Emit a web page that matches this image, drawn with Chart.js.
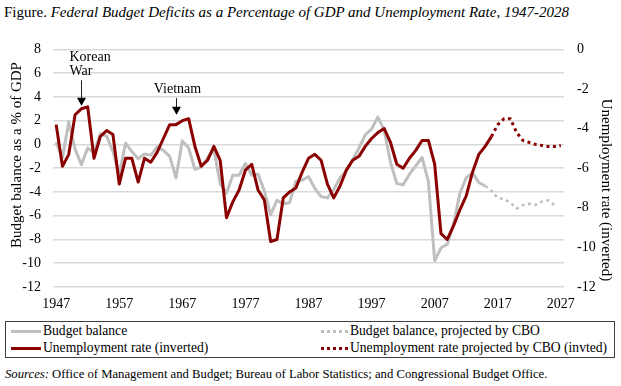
<!DOCTYPE html>
<html>
<head>
<meta charset="utf-8">
<script src="https://cdn.jsdelivr.net/npm/chart.js@4.4.1/dist/chart.umd.min.js"></script>
<style>
  html, body { margin: 0; padding: 0; background: #fff; }
  body {
    width: 621px; height: 386px; position: relative; overflow: hidden;
    font-family: "Liberation Serif", "Times New Roman", serif; color: #000;
  }
  #title { position: absolute; left: 4px; top: 4px; font-size: 15px; white-space: nowrap; }
  #wrap { position: absolute; left: 0; top: 28px; width: 621px; height: 290px; }
  #legend {
    position: absolute; left: 5px; top: 321px; width: 608px; height: 35px;
    border: 1px solid #404040; display: grid; grid-template-columns: 310px 1fr;
    align-content: center; font-size: 13.6px;
  }
  .item { display: flex; align-items: center; height: 17px; white-space: nowrap; }
  .swatch { width: 30px; margin: 0 2px 0 5px; height: 0; }
  .item:nth-child(even) .swatch { width: 27px; }
  #sources { position: absolute; left: 5px; top: 367px; font-size: 12.7px; white-space: nowrap; }
</style>
</head>
<body>
<div id="title">Figure. <em>Federal Budget Deficits as a Percentage of GDP and Unemployment Rate, 1947-2028</em></div>
<div id="wrap"><canvas id="chart"></canvas></div>
<div id="legend"></div>
<div id="sources"><em>Sources:</em> Office of Management and Budget; Bureau of Labor Statistics; and Congressional Budget Office.</div>
<script>
// x categories (one per year slot on the axis)
const years = [];
for (let yr = 1947; yr <= 2027; yr++) years.push(String(yr));

// budget balance, % of GDP (actual)
const budgetBalance = [
  0.2, -1.1, 1.9, -0.4, -1.7, -0.3, -0.7, 0.9, 0.7, -0.6,
  -2.5, 0.1, -0.6, -1.2, -0.8, -0.9, -0.2, -0.5, -1.0, -2.8,
  0.3, -0.3, -2.1, -1.9, -1.1, -0.4, -3.3, -4.1, -2.6, -2.6,
  -1.6, -2.6, -2.5, -3.9, -5.9, -4.7, -5.0, -4.9, -3.1, -3.0,
  -2.7, -3.7, -4.4, -4.5, -3.8, -2.8, -2.2, -1.3, -0.3, 0.8,
  1.3, 2.3, 1.2, -1.5, -3.3, -3.4, -2.5, -1.8, -1.1, -3.1,
  -9.8, -8.7, -8.4, -6.7, -4.1, -2.8, -2.4, -3.2, -3.5
];
// budget balance projected by CBO (starts at last actual point)
const budgetProjected = [-3.5, -3.9, -4.5, -4.6, -4.9, -5.4, -5.1, -5.0, -5.1, -4.8, -4.7, -5.1];

// unemployment rate, % (actual)
const unemploymentRate = [
  3.8, 5.9, 5.3, 3.3, 3.0, 2.9, 5.5, 4.4, 4.1, 4.3,
  6.8, 5.5, 5.5, 6.7, 5.5, 5.7, 5.2, 4.5, 3.8, 3.8,
  3.6, 3.5, 4.9, 5.9, 5.6, 4.9, 5.6, 8.5, 7.7, 7.1,
  6.1, 5.8, 7.1, 7.6, 9.7, 9.6, 7.5, 7.2, 7.0, 6.2,
  5.5, 5.3, 5.6, 6.8, 7.5, 6.9, 6.1, 5.6, 5.4, 4.9,
  4.5, 4.2, 4.0, 4.7, 5.8, 6.0, 5.5, 5.1, 4.6, 4.6,
  5.8, 9.3, 9.6, 8.9, 8.1, 7.4, 6.2, 5.3, 4.9, 4.4
];
// unemployment projected by CBO
const unemploymentProjected = [4.4, 3.8, 3.5, 3.5, 4.2, 4.6, 4.7, 4.8, 4.85, 4.9, 4.9, 4.85];

const leftTicks = [8, -12];   // budget axis range
const rightTicks = [0, -12];  // unemployment (inverted) axis range

const RED = '#8b0000';
const GRAY = '#bfbfbf';

const lead = n => Array(n).fill(null);
const invert = arr => arr.map(v => (v === null ? null : -v));

// arrows for the war labels
const notes = [
  { lines: ['Korean', 'War'], at: 4, from: 5.4, to: 3.25, dx: -12, align: 'left' },
  { lines: ['Vietnam'], at: 19, from: 3.9, to: 2.5, dx: 1, align: 'center' }
];

const overlay = {
  id: 'overlay',
  afterDatasetsDraw(chart) {
    const { ctx, scales: { x, y } } = chart;
    ctx.save();
    ctx.fillStyle = '#000';
    ctx.strokeStyle = '#222';
    ctx.font = '14px "Liberation Serif"';
    ctx.textBaseline = 'middle';
    notes.forEach(n => {
      const px = Math.round(x.getPixelForValue(n.at)) + 0.5;
      const top = y.getPixelForValue(n.from);
      const tip = y.getPixelForValue(n.to);
      ctx.lineWidth = 1;
      ctx.beginPath();
      ctx.moveTo(px, top);
      ctx.lineTo(px, tip - 6);
      ctx.stroke();
      ctx.beginPath();
      ctx.moveTo(px - 4.5, tip - 8);
      ctx.lineTo(px + 4.5, tip - 8);
      ctx.lineTo(px, tip);
      ctx.closePath();
      ctx.fill();
      ctx.textAlign = n.align;
      const count = n.lines.length;
      n.lines.forEach((t, i) => {
        ctx.fillText(t, px + n.dx, top - 9 - (count - 1 - i) * 14);
      });
    });

    // axis titles
    ctx.font = '15px "Liberation Serif"';
    ctx.textAlign = 'center';
    ctx.save();
    ctx.translate(17, 127);
    ctx.rotate(-Math.PI / 2);
    ctx.fillText('Budget balance as a % of GDP', 0, 0);
    ctx.restore();
    ctx.save();
    ctx.translate(606, 162);
    ctx.rotate(Math.PI / 2);
    ctx.fillText('Unemployment rate (inverted)', 0, 0);
    ctx.restore();
    ctx.restore();
  }
};

Chart.defaults.font.family = '"Liberation Serif", "Times New Roman", serif';
Chart.defaults.font.size = 14;
Chart.defaults.color = '#000';

const chart = new Chart(document.getElementById('chart'), {
  type: 'line',
  data: {
    labels: years,
    datasets: [
      {
        label: 'Budget balance',
        data: budgetBalance,
        borderColor: GRAY, borderWidth: 3, yAxisID: 'y', order: 2
      },
      {
        label: 'Budget balance, projected by CBO',
        data: lead(budgetBalance.length - 1).concat(budgetProjected),
        borderColor: GRAY, borderWidth: 2.5, borderDash: [3, 3.5], yAxisID: 'y', order: 2
      },
      {
        label: 'Unemployment rate (inverted)',
        data: invert(unemploymentRate),
        borderColor: RED, borderWidth: 3, yAxisID: 'y2', order: 1
      },
      {
        label: 'Unemployment rate projected by CBO (invted)',
        data: lead(unemploymentRate.length - 1).concat(invert(unemploymentProjected)),
        borderColor: RED, borderWidth: 3, borderDash: [3, 3.5], yAxisID: 'y2', order: 1
      }
    ]
  },
  options: {
    responsive: true,
    maintainAspectRatio: false,
    animation: false,
    elements: { point: { radius: 0 }, line: { tension: 0, borderJoinStyle: 'round' } },
    layout: { padding: { top: 18, left: 0, right: 0, bottom: 0 } },
    plugins: { legend: { display: false }, tooltip: { enabled: false } },
    scales: {
      x: {
        offset: true,
        grid: { display: false },
        border: { display: false },
        ticks: { autoSkip: false, maxRotation: 0, minRotation: 0, padding: 1 },
        afterBuildTicks: s => { s.ticks = s.ticks.filter(t => t.value % 10 === 0); },
        afterFit: s => { s.height = 31; }
      },
      y: {
        position: 'left',
        min: leftTicks[1], max: leftTicks[0],
        ticks: { stepSize: 2, padding: 12 },
        grid: { color: '#d9d9d9', lineWidth: 1.5, drawTicks: false },
        border: { display: false },
        afterFit: s => { s.width = 53; }
      },
      y2: {
        position: 'right',
        min: rightTicks[1], max: rightTicks[0],
        ticks: { stepSize: 2, padding: 13 },
        grid: { display: false, drawTicks: false },
        border: { display: false },
        afterFit: s => { s.width = 57; }
      }
    }
  },
  plugins: [overlay]
});

// legend box built from the datasets
const legendEl = document.getElementById('legend');
chart.data.datasets.forEach(ds => {
  const item = document.createElement('div');
  item.className = 'item';
  const sw = document.createElement('span');
  sw.className = 'swatch';
  sw.style.borderTop = (ds.borderDash ? '3px dotted ' : '3px solid ') + ds.borderColor;
  const label = document.createElement('span');
  label.textContent = ds.label;
  item.append(sw, label);
  legendEl.appendChild(item);
});
</script>
</body>
</html>
